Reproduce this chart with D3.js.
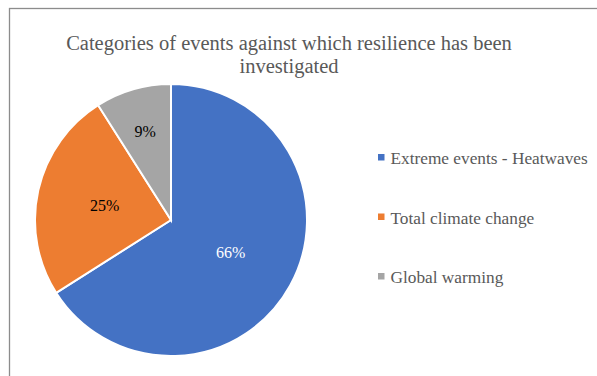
<!DOCTYPE html>
<html>
<head>
<meta charset="utf-8">
<script src="https://cdn.jsdelivr.net/npm/d3@7"></script>
<style>
  html, body { margin: 0; padding: 0; background: #fff; }
  svg { display: block; }
</style>
</head>
<body>
<svg id="chart" width="597" height="376"></svg>
<script>
// Share of studies by category of event
const categories = ["Extreme events - Heatwaves", "Total climate change", "Global warming"];
const shares = [66, 25, 9];
const colors = ["#4472C4", "#ED7D31", "#A5A5A5"];
const titleLines = ["Categories of events against which resilience has been", "investigated"];

const FONT = '"Liberation Serif"';
const svg = d3.select("#chart");

// outer frame
svg.append("rect")
  .attr("x", 9.5).attr("y", 8.5)
  .attr("width", 620).attr("height", 400)
  .attr("fill", "#fff").attr("stroke", "#8c8c8c").attr("stroke-width", 1.3);

// title
svg.append("g").selectAll("text")
  .data(titleLines).join("text")
  .attr("x", 289).attr("y", (d, i) => 50 + i * 22.5)
  .attr("text-anchor", "middle")
  .style("font-family", FONT).style("font-size", "20.5px")
  .attr("fill", "#595959")
  .text(d => d);

// pie
const cx = 171, cy = 220, R = 136;
const pie = d3.pie().sort(null).value(d => d);
const arcs = pie(shares);
const arc = d3.arc().innerRadius(0).outerRadius(R);

const g = svg.append("g").attr("transform", `translate(${cx},${cy})`);
g.selectAll("path").data(arcs).join("path")
  .attr("d", arc)
  .attr("fill", (d, i) => colors[i])
  .attr("stroke", "#fff").attr("stroke-width", 2);

const total = d3.sum(shares);
g.selectAll("text").data(arcs).join("text")
  .attr("transform", d => {
    const frac = d.value / total;
    const r = frac < 0.15 ? R * 0.68 : R * 0.5;
    const a = (d.startAngle + d.endAngle) / 2;
    return `translate(${r * Math.sin(a)},${-r * Math.cos(a)})`;
  })
  .attr("dy", "0.35em")
  .attr("text-anchor", "middle")
  .style("font-family", FONT).style("font-size", "16px")
  .attr("fill", (d, i) => i === 0 ? "#fff" : "#000")
  .text(d => d.value + "%");

// legend
const legend = svg.append("g").attr("transform", "translate(378,0)");
const items = legend.selectAll("g").data(categories).join("g")
  .attr("transform", (d, i) => `translate(0,${164 + i * 59.5})`);
items.append("rect")
  .attr("x", 0).attr("y", -10).attr("width", 6.5).attr("height", 6.5)
  .attr("fill", (d, i) => colors[i]);
items.append("text")
  .attr("x", 12.5).attr("y", 0)
  .style("font-family", FONT).style("font-size", "17.3px")
  .attr("fill", "#595959")
  .text(d => d);
</script>
</body>
</html>
